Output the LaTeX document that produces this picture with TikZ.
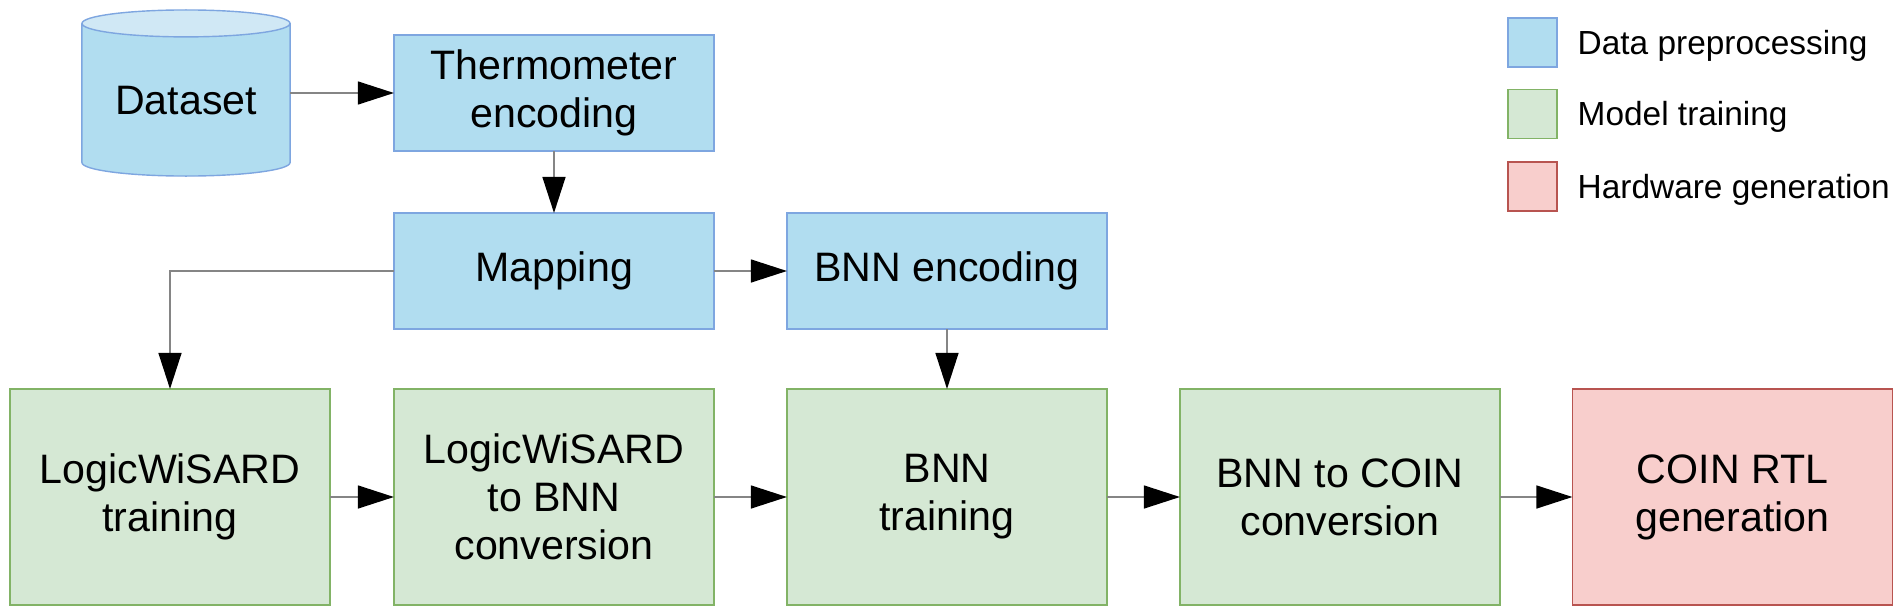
\documentclass[tikz,border=0pt]{standalone}
\usepackage{fontspec}
\setmainfont{Liberation Sans}
\usetikzlibrary{positioning,arrows.meta,shapes.geometric}

\definecolor{prefill}{HTML}{B1DDF0}
\definecolor{pretop}{HTML}{D0E8F5}
\definecolor{predraw}{HTML}{7EA6E0}
\definecolor{trainfill}{HTML}{D5E8D4}
\definecolor{traindraw}{HTML}{82B366}
\definecolor{hwfill}{HTML}{F8CECC}
\definecolor{hwdraw}{HTML}{B85450}
\definecolor{linegray}{HTML}{858585}

\begin{document}
\begin{tikzpicture}[x=0.01cm, y=-0.01cm,
        box/.style={shape=rectangle, inner sep=0pt, outer sep=0pt, minimum width=3.2cm,
            align=center, line width=0.4pt, font=\fontsize{11.7}{13.7}\selectfont},
        prebox/.style={box, fill=prefill, draw=predraw, minimum height=1.16cm},
        trainbox/.style={box, fill=trainfill, draw=traindraw, minimum height=2.16cm},
        hwbox/.style={box, fill=hwfill, draw=hwdraw, minimum height=2.16cm},
        flow/.style={draw=linegray, line width=0.4pt,
            -{Triangle[length=0.36cm, width=0.23cm, color=black, fill=black]}},
        legbox/.style={shape=rectangle, minimum size=0.49cm, inner sep=0pt, outer sep=0pt, line width=0.4pt},
        legtext/.style={inner sep=0pt, text height=0.235cm, text depth=0pt,
            font=\fontsize{9.5}{11}\selectfont}]
        \useasboundingbox (0,0) rectangle (1902,615);

        \node[shape=cylinder, shape border rotate=90, aspect=0.19, draw=predraw, line width=0.4pt,
            cylinder uses custom fill, cylinder body fill=prefill, cylinder end fill=pretop,
            minimum width=2.08cm, minimum height=1.66cm, inner sep=0pt, outer sep=0pt,
            anchor=shape center, font=\fontsize{11.7}{13.7}\selectfont] (dataset) at (186,93) {Dataset};

        \node[prebox] (thermo) at (554,93) {Thermometer\\encoding};
        \node[prebox] (mapping) at (554,271) {Mapping};
        \node[prebox] (bnnenc) at (947,271) {BNN encoding};

        \node[trainbox] (lwtrain) at (170,497) {LogicWiSARD\\training};
        \node[trainbox] (lwconv) at (554,497) {LogicWiSARD\\to BNN\\conversion};
        \node[trainbox] (bnntrain) at (947,497) {BNN\\training};
        \node[trainbox] (coinconv) at (1340,497) {BNN to COIN\\conversion};
        \node[hwbox] (coinrtl) at (1732.5,497) {COIN RTL\\generation};

        \path (dataset.shape center) edge [flow, shorten <=1.04cm] (thermo);
        \path [flow] (thermo) edge (mapping);
        \path [flow] (mapping) edge (bnnenc);
        \draw [flow] (mapping) -| (lwtrain);
        \path [flow] (bnnenc) edge (bnntrain);

        \path [flow] (lwtrain) edge (lwconv);
        \path [flow] (lwconv) edge (bnntrain);
        \path [flow] (bnntrain) edge (coinconv);
        \path [flow] (coinconv) edge (coinrtl);

        % legend
        \node[legbox, fill=prefill, draw=predraw] (legpre) at (1532.5,42.5) {};
        \node[legbox, fill=trainfill, draw=traindraw] (legtrain) at (1532.5,114) {};
        \node[legbox, fill=hwfill, draw=hwdraw] (leghw) at (1532.5,186.5) {};
        \node[legtext, right=0.2cm of legpre] (legpretext) {Data preprocessing};
        \node[legtext, right=0.2cm of legtrain] (legtraintext) {Model training};
        \node[legtext, right=0.2cm of leghw] (leghwtext) {Hardware generation};
    \end{tikzpicture}
\end{document}
